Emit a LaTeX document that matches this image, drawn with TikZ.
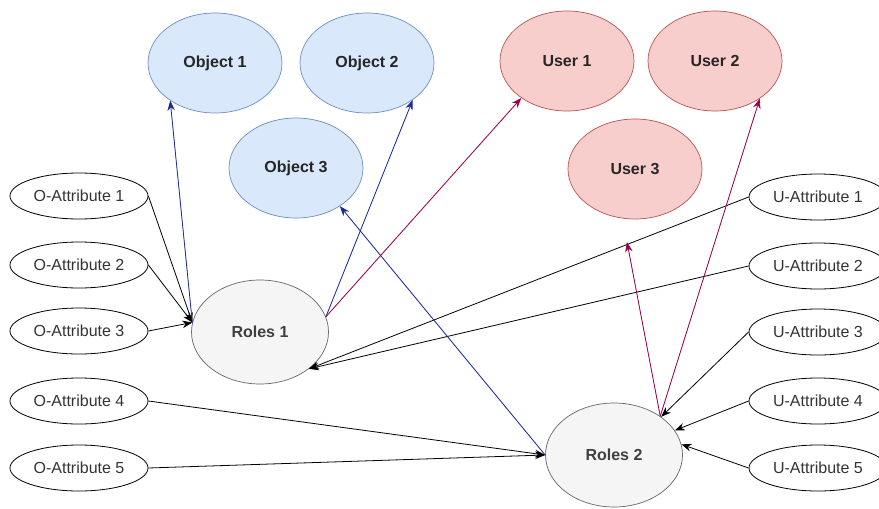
\documentclass[tikz,border=0pt]{standalone}
\usepackage{fontspec}
\setmainfont{Liberation Sans}
\usetikzlibrary{shapes.geometric,arrows.meta}
\definecolor{objfill}{HTML}{DAE8FC}
\definecolor{objline}{HTML}{6C8EBF}
\definecolor{usrfill}{HTML}{F8CECC}
\definecolor{usrline}{HTML}{B85450}
\definecolor{rolfill}{HTML}{F5F5F5}
\definecolor{rolline}{HTML}{666666}
\definecolor{bluearr}{HTML}{1A2A99}
\definecolor{redarr}{HTML}{99004D}

\begin{document}
\begin{tikzpicture}[x=1pt,y=1pt,yscale=-1,
    big/.style={ellipse,inner sep=0pt,minimum width=134,minimum height=100,line width=0.7pt,text=black!85,font=\fontsize{16}{19}\selectfont\bfseries},
    objnode/.style={big,draw=objline,fill=objfill},
    usrnode/.style={big,draw=usrline,fill=usrfill},
    rolnode/.style={big,draw=rolline,fill=rolfill,minimum width=137,minimum height=104,text=black!75},
    attr/.style={ellipse,draw,inner sep=0pt,minimum width=138,minimum height=46,line width=0.8pt,text=black!80,font=\fontsize{16}{19}\selectfont},
    arr/.style={-{Stealth[length=10pt,width=7.5pt]},line width=0.8pt},
    bluearrow/.style={arr,draw=bluearr,fill=bluearr},
    redarrow/.style={arr,draw=redarr,fill=redarr}]
        \useasboundingbox (0,0) rectangle (879,509);
        \node[objnode] (obj1) at (215,63) {Object 1};
        \node[objnode] (obj2) at (367,63) {Object 2};
        \node[objnode] (obj3) at (296,168) {Object 3};
        \node[usrnode] (usr1) at (567,61) {User 1};
        \node[usrnode] (usr2) at (715,61) {User 2};
        \node[usrnode] (usr3) at (635,169) {User 3};
        \node[rolnode] (rol1) at (260,332) {Roles 1};
        \node[rolnode] (rol2) at (614,455) {Roles 2};
        \node[attr] (oa1) at (79,196) {O-Attribute 1};
        \node[attr] (oa2) at (79,265) {O-Attribute 2};
        \node[attr] (oa3) at (79,331) {O-Attribute 3};
        \node[attr] (oa4) at (79,401) {O-Attribute 4};
        \node[attr] (oa5) at (79,468) {O-Attribute 5};
        \node[attr] (ua1) at (818,197) {U-Attribute 1};
        \node[attr] (ua2) at (818,266) {U-Attribute 2};
        \node[attr] (ua3) at (818,332) {U-Attribute 3};
        \node[attr] (ua4) at (818,401) {U-Attribute 4};
        \node[attr] (ua5) at (818,468) {U-Attribute 5};
        \coordinate (usr3tip) at (627,242);

        \draw[arr] (oa1.east) -- (rol1.172);
        \draw[arr] (oa2.east) -- (rol1.172);
        \draw[arr] (oa3.east) -- (rol1.172);
        \draw[arr] (ua1.west) -- (rol1.-37);
        \draw[arr] (ua2.west) -- (rol1.-37);
        \draw[arr] (oa4.east) -- (rol2.west);
        \draw[arr] (oa5.east) -- (rol2.west);
        \draw[arr] (ua3.west) -- (rol2.39);
        \draw[arr] (ua4.west) -- (rol2.22);
        \draw[arr] (ua5.west) -- (rol2.9);

        \draw[bluearrow] (rol1.172) -- (obj1.-140);
        \draw[bluearrow] (rol1.13) -- (obj2.-39);
        \draw[bluearrow] (rol2.west) -- (obj3.-41);
        \draw[redarrow] (rol1.13) -- (usr1.-141);
        \draw[redarrow] (rol2.40) -- (usr2.-40);
        \draw[redarrow] (rol2.40) -- (usr3tip);
\end{tikzpicture}
\end{document}
